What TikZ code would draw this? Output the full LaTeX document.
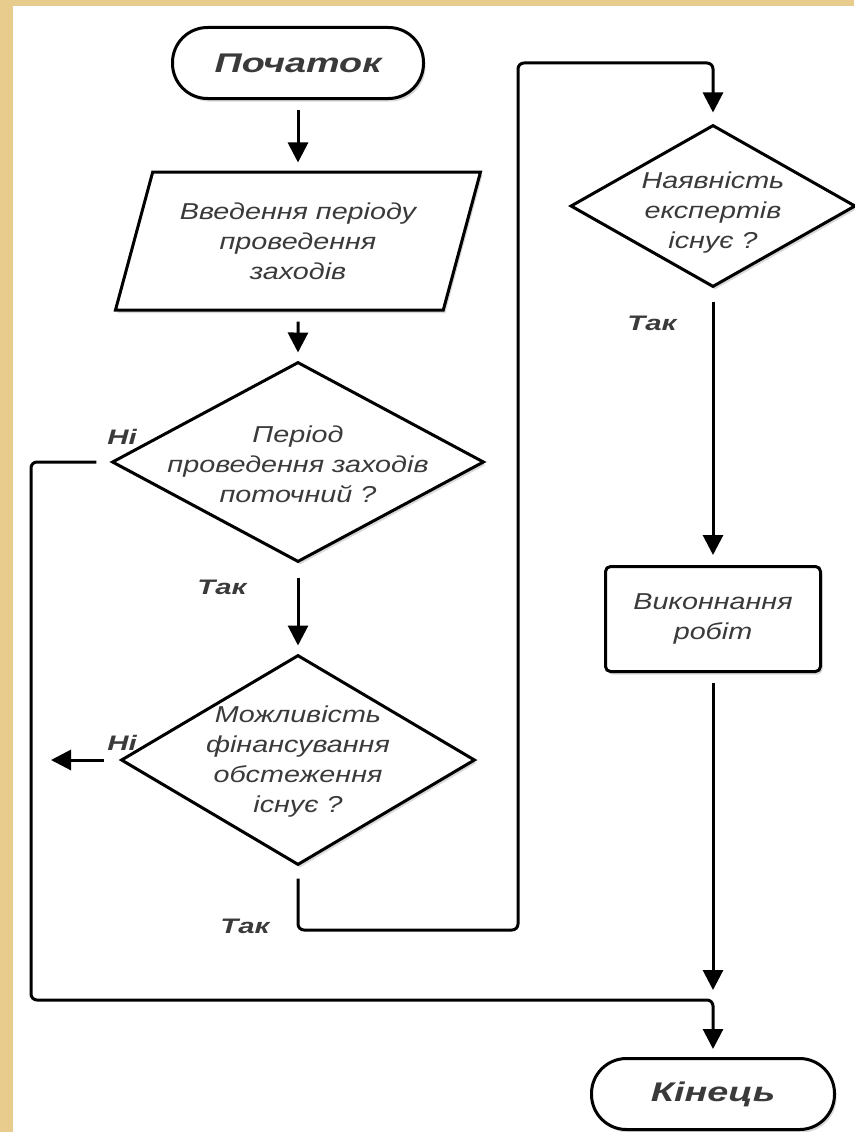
\documentclass[tikz,border=0pt]{standalone}
\usepackage{fontspec}
\setmainfont[FakeStretch=1.25]{Liberation Sans}
\newfontfamily\labfont[FakeStretch=1.4]{Liberation Sans}
\usetikzlibrary{arrows.meta,shapes.geometric,shadows}
\definecolor{parch}{HTML}{E8CC8E}
\definecolor{ink}{HTML}{3A3A3A}
\tikzset{
    shdw/.style={drop shadow={shadow xshift=2pt,shadow yshift=-3pt,opacity=0.3}},
    term/.style={rectangle, rounded corners=35pt, minimum width=251pt, minimum height=71pt,
        font=\labfont\bfseries\itshape\fontsize{27}{30}\selectfont},
    arr/.style={-{Triangle[length=20pt,width=20pt]}, line width=3pt, shorten <=10pt, shorten >=8pt},
    lab/.style={text=ink, font=\labfont\bfseries\itshape\fontsize{21}{24}\selectfont},
    dtext/.style={text=ink, align=center, font=\itshape\fontsize{23}{30}\selectfont}
}

\begin{document}
\begin{tikzpicture}[x=1pt,y=-1pt]
    \useasboundingbox (0,0) rectangle (854,1132);
    \fill[parch] (0,0) rectangle (854,1132);
    \fill[white] (13,6) rectangle (854,1132);

    \begin{scope}[every node/.style={draw, line width=3pt, fill=white, shdw, text=ink, align=center,
            font=\itshape\fontsize{23}{30}\selectfont}]
        \node[term] (beg) at (298,63) {Початок};
        \node[trapezium, trapezium left angle=66, trapezium right angle=114, trapezium stretches body,
            minimum width=365pt, minimum height=138pt] (inp) at (298,241) {Введення періоду\\проведення\\заходів};
        \node[diamond, minimum width=372pt, minimum height=200pt, inner sep=0pt] (d1) at (298,462) {};
        \node[diamond, minimum width=354pt, minimum height=210pt, inner sep=0pt] (d2) at (298,760) {};
        \node[diamond, minimum width=285pt, minimum height=162pt, inner sep=0pt] (d3) at (713,206) {};
        \node[rectangle, rounded corners=5pt, minimum width=215pt, minimum height=105pt] (work) at (713,619) {Виконнання\\робіт};
        \node[term, minimum width=243pt] (fin) at (713,1094) {Кінець};
    \end{scope}

    % diamond texts
    \node[dtext, yshift=-2pt] (d1t) at (d1) {Період\\проведення заходів\\поточний ?};
    \node[dtext, yshift=-2pt] (d2t) at (d2) {Можливість\\фінансування\\обстеження\\існує ?};
    \node[dtext, yshift=-7pt] (d3t) at (d3) {Наявність\\експертів\\існує ?};

    \coordinate (lft) at (31,1000);
    \coordinate (jn) at (713,1000);
    \coordinate (nofin) at (43,760);
    \coordinate (loopA) at (518,930);
    \coordinate (loopB) at (518,63);

    \draw[arr] (beg) -- (inp);
    \draw[arr] (inp) -- (d1);
    \draw[arr, shorten <=14pt] (d1) -- (d2);
    \draw[arr, shorten <=14pt, rounded corners=6pt] (d1) -- (d1 -| lft) -- (lft) -- (jn) -- (fin);
    \draw[arr, shorten <=15pt] (d2) -- (nofin);
    \draw[arr, shorten <=12pt, shorten >=11pt, rounded corners=6pt] (d2) |- (loopA) -- (loopB) -| (d3);
    \draw[arr, shorten <=13pt, shorten >=10pt] (d3) -- (work);
    \draw[arr, shorten >=10pt] (work) -- (jn);

    \node[lab] (no1) at (122,437) {Ні};
    \node[lab] (no2) at (122,743) {Ні};
    \node[lab] (yes1) at (222,587) {Так};
    \node[lab] (yes2) at (245,926) {Так};
    \node[lab] (yes3) at (652,323) {Так};
\end{tikzpicture}
\end{document}
